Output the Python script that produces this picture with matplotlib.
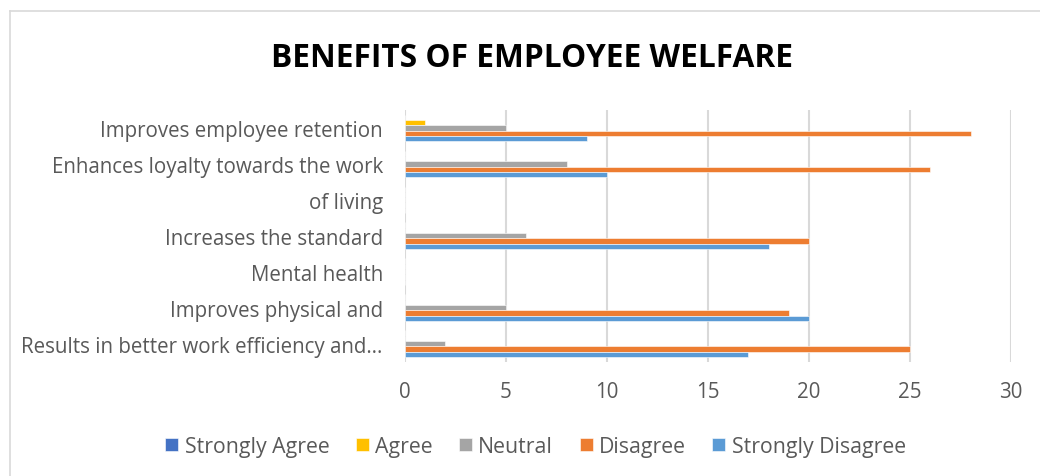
import matplotlib
matplotlib.use('Agg')
import matplotlib.pyplot as plt
from matplotlib.lines import Line2D
import numpy as np

categories = ['Results in better work efficiency and\u2026', 'Improves physical and', 'Mental health',
              'Increases the standard', 'of living', 'Enhances loyalty towards the work',
              'Improves employee retention']
strongly_agree = [0, 0, 0, 0, 0, 0, 0]
agree = [0, 0, 0, 0, 0, 0, 1]
neutral = [2, 5, 0, 6, 0, 8, 5]
disagree = [25, 19, 0, 20, 0, 26, 28]
strongly_disagree = [17, 20, 0, 18, 0, 10, 9]

series = ['Strongly Agree', 'Agree', 'Neutral', 'Disagree', 'Strongly Disagree']
colors = ['#4472C4', '#FFC000', '#A5A5A5', '#ED7D31', '#5B9BD5']

plt.rcParams['font.family'] = ['Open Sans', 'DejaVu Sans']

fig = plt.figure(figsize=(10.4, 4.77), dpi=100)
ax = fig.add_axes([0.3894, 0.24, 0.5827, 0.5273])

y = np.arange(len(categories))
h = 0.148
offsets = [2 * h, h, 0, -h, -2 * h]
for vals, name, c, off in zip([strongly_agree, agree, neutral, disagree, strongly_disagree],
                              series, colors, offsets):
    ax.barh(y + off, vals, height=h, color=c, label=name, edgecolor='white', linewidth=0.4, zorder=3)

ax.set_xlim(0, 30)
ax.set_ylim(-0.5, len(categories) - 0.5)
ax.set_xticks(range(0, 31, 5))
ax.set_yticks(y)
ax.set_yticklabels(categories)
ax.tick_params(axis='both', length=0, labelsize=14.8, colors='#595959')
ax.tick_params(axis='x', pad=14)
ax.tick_params(axis='y', pad=16)
ax.grid(axis='x', color='#d9d9d9', linewidth=1.5, zorder=0)
for s in ax.spines.values():
    s.set_visible(False)

fig.text(0.5115, 0.878, 'BENEFITS OF EMPLOYEE WELFARE', ha='center', va='center',
         fontsize=22.8, fontweight='bold', color='black')

fig.legend(loc='center', bbox_to_anchor=(0.515, 0.062), ncol=5, frameon=False,
           fontsize=15.3, labelcolor='#595959', handlelength=0.6, handleheight=0.6,
           handletextpad=0.3, columnspacing=1.25)

fig.add_artist(Line2D([10 / 1040, 1], [1 - 12 / 477, 1 - 12 / 477], color='#d9d9d9', linewidth=1.2))
fig.add_artist(Line2D([10 / 1040, 10 / 1040], [0, 1 - 12 / 477], color='#d9d9d9', linewidth=1.2))

fig.savefig('out.png', dpi=100)
